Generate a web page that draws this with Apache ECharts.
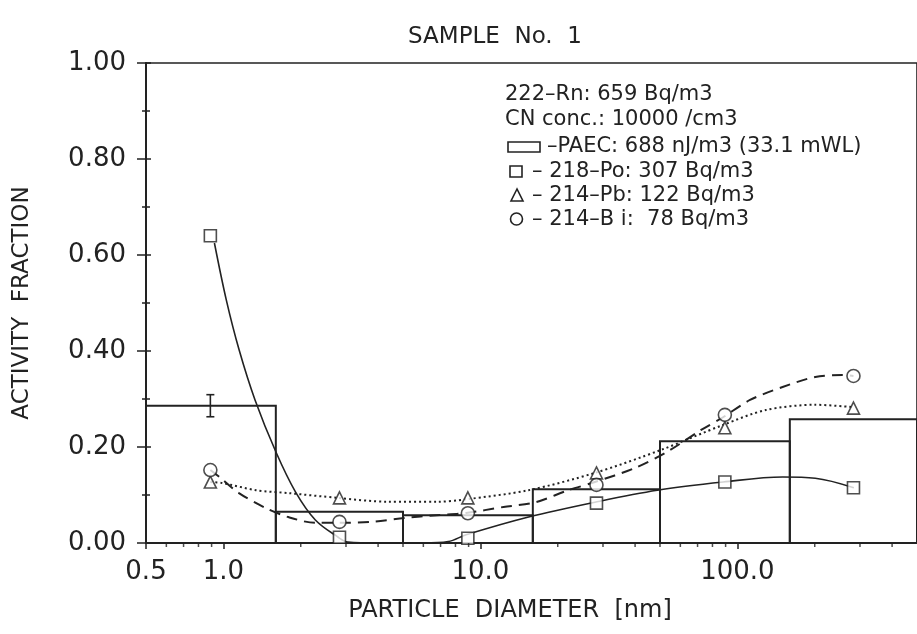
<!DOCTYPE html>
<html>
<head>
<meta charset="utf-8">
<script src="https://cdn.jsdelivr.net/npm/echarts@6/dist/echarts.min.js"></script>
<style>html,body{margin:0;padding:0;background:#fff;}#c{width:917px;height:634px;}</style>
</head>
<body>
<div id="c"></div>
<script>
// ---- data ----
const diameters = [0.89, 2.83, 8.94, 28.3, 89.4, 283];
const po218 = [0.64, 0.012, 0.01, 0.083, 0.127, 0.115];
const pb214 = [0.127, 0.094, 0.094, 0.146, 0.24, 0.281];
const bi214 = [0.152, 0.044, 0.062, 0.121, 0.267, 0.348];

const binEdges = [0.5, 1.6, 5, 16, 50, 160, 500];
const paec = [0.286, 0.065, 0.058, 0.112, 0.212, 0.258];
const paecErrX = [0.89];
const paecErrLow = [0.263];
const paecErrHigh = [0.309];

// fitted curves as drawn in the picture
const poCurveX = [0.923, 1.027, 1.152, 1.328, 1.6, 1.91, 2.28, 2.79, 3.05, 4, 6, 7.5, 8.8, 15.4, 27.9, 48.8, 88, 150, 201, 284];
const poCurveY = [0.625, 0.506, 0.402, 0.298, 0.19, 0.106, 0.048, 0.0125, 0.002, 0.0, 0.0, 0.003, 0.017, 0.054, 0.085, 0.11, 0.127, 0.1375, 0.135, 0.115];
const biCurveX = [0.89, 0.965, 1.15, 1.46, 1.79, 2.28, 2.79, 3.74, 5.06, 6.77, 8.8, 12.3, 16.4, 22, 27.9, 39.8, 53.3, 72, 88, 112, 150, 201, 256, 283];
const biCurveY = [0.152, 0.1375, 0.104, 0.073, 0.054, 0.042, 0.042, 0.044, 0.052, 0.058, 0.0625, 0.075, 0.085, 0.11, 0.127, 0.156, 0.19, 0.235, 0.262, 0.298, 0.325, 0.346, 0.35, 0.348];
const pbCurveX = [0.89, 0.99, 1.34, 1.79, 2.79, 4.35, 6.77, 8.8, 15.4, 27.9, 50.5, 88, 129, 201, 283];
const pbCurveY = [0.127, 0.125, 0.110, 0.104, 0.094, 0.086, 0.086, 0.091, 0.11, 0.146, 0.194, 0.246, 0.277, 0.288, 0.283];

const minorTickValues = [0.6, 0.7, 0.8, 0.9, 2, 3, 4, 5, 6, 7, 8, 9, 20, 30, 40, 50, 60, 70, 80, 90, 200, 300, 400];

const titleText = 'SAMPLE  No.  1';
const xName = 'PARTICLE  DIAMETER  [nm]';
const yName = 'ACTIVITY  FRACTION';
const legendLines = ['222\u2013Rn: 659 Bq/m3', 'CN conc.: 10000 /cm3', '\u2013PAEC: 688 nJ/m3 (33.1 mWL)', '\u2013 218\u2013Po: 307 Bq/m3', '\u2013 214\u2013Pb: 122 Bq/m3', '\u2013 214\u2013B i:  78 Bq/m3'];

// ---- chart ----
const INK = '#222';
const FONT = 'DejaVu Sans';
const zip = (xs, ys) => xs.map((x, i) => [x, ys[i]]);

const chart = echarts.init(document.getElementById('c'), null, {renderer: 'canvas'});

const legendY = [95, 120, 147, 172, 196, 220];
const graphic = legendLines.map((t, i) => ({
  type: 'text', z: 100,
  style: {text: t, x: i < 2 ? 505 : (i === 2 ? 547 : 532), y: legendY[i], fontSize: 21, fontFamily: FONT, fill: INK, verticalAlign: 'middle'}
}));
graphic.push(
  {type: 'rect', shape: {x: 508, y: 142, width: 32, height: 10}, style: {fill: 'none', stroke: INK, lineWidth: 1.6}},
  {type: 'rect', shape: {x: 510, y: 166, width: 12, height: 11}, style: {fill: 'none', stroke: INK, lineWidth: 1.6}},
  {type: 'polygon', shape: {points: [[517, 189], [511, 201], [523, 201]]}, style: {fill: 'none', stroke: INK, lineWidth: 1.6}},
  {type: 'circle', shape: {cx: 516.5, cy: 219, r: 6}, style: {fill: 'none', stroke: INK, lineWidth: 1.6}}
);

const symStyle = {color: '#fff', borderColor: INK, borderWidth: 1.6};

chart.setOption({
  animation: false,
  backgroundColor: '#fff',
  title: [
    {text: titleText, left: 490, top: 21, textAlign: 'center', textStyle: {fontSize: 23, fontWeight: 'normal', fontFamily: FONT, color: INK}},
    {text: xName, left: 505, top: 594, textAlign: 'center', textStyle: {fontSize: 24, fontWeight: 'normal', fontFamily: FONT, color: INK}}
  ],
  graphic: graphic,
  grid: {left: 146, top: 63, width: 780, height: 480, show: true, borderColor: INK, borderWidth: 1.6, backgroundColor: 'transparent'},
  xAxis: {
    type: 'log', logBase: 10, min: 0.5, max: 500,
    axisLine: {lineStyle: {color: INK, width: 2}},
    axisTick: {show: true, length: 6, lineStyle: {color: INK, width: 1.5}},
    axisLabel: {fontSize: 26, fontFamily: FONT, color: INK, margin: 16, showMinLabel: true, showMaxLabel: false,
      formatter: v => (+v).toFixed(1)},
    splitLine: {show: false}, minorTick: {show: false}
  },
  yAxis: [{
    type: 'value', min: 0, max: 1, interval: 0.2,
    name: yName, nameLocation: 'middle', nameRotate: 90, nameGap: 112,
    nameTextStyle: {fontSize: 23, fontFamily: FONT, color: INK},
    axisLine: {show: true, lineStyle: {color: INK, width: 2}},
    axisTick: {show: true, length: 9, lineStyle: {color: INK, width: 1.5}},
    minorTick: {show: true, splitNumber: 2, length: 4, lineStyle: {color: INK, width: 1.5}},
    axisLabel: {fontSize: 26, fontFamily: FONT, color: INK, margin: 20, formatter: v => v.toFixed(2)},
    splitLine: {show: false}
  }, {
    type: 'value', min: 0, max: 1, interval: 0.2, position: 'left', offset: 0,
    axisLine: {show: false},
    axisTick: {show: true, inside: true, length: 5, lineStyle: {color: INK, width: 1.5}},
    minorTick: {show: true, splitNumber: 2, length: 4, lineStyle: {color: INK, width: 1.5}},
    axisLabel: {show: false}, splitLine: {show: false}
  }],
  series: [
    {
      name: 'PAEC', type: 'custom', clip: false, z: 3,
      data: paec.map((h, i) => [binEdges[i], binEdges[i + 1], h]),
      encode: {x: [0, 1], y: 2},
      renderItem: (params, api) => {
        const p0 = api.coord([api.value(0), api.value(2)]);
        const p1 = api.coord([api.value(1), 0]);
        return {type: 'rect', shape: {x: p0[0], y: p0[1], width: p1[0] - p0[0], height: p1[1] - p0[1]},
          style: {fill: 'none', stroke: INK, lineWidth: 2}};
      }
    },
    {
      name: 'PAEC error', type: 'custom', clip: false, z: 3,
      data: paecErrX.map((x, i) => [x, paecErrLow[i], paecErrHigh[i]]),
      encode: {x: 0, y: [1, 2]},
      renderItem: (params, api) => {
        const lo = api.coord([api.value(0), api.value(1)]);
        const hi = api.coord([api.value(0), api.value(2)]);
        const w = 4;
        const ls = {stroke: INK, lineWidth: 1.6};
        return {type: 'group', children: [
          {type: 'line', shape: {x1: lo[0], y1: lo[1], x2: hi[0], y2: hi[1]}, style: ls},
          {type: 'line', shape: {x1: lo[0] - w, y1: lo[1], x2: lo[0] + w, y2: lo[1]}, style: ls},
          {type: 'line', shape: {x1: hi[0] - w, y1: hi[1], x2: hi[0] + w, y2: hi[1]}, style: ls}
        ]};
      }
    },
    {name: 'Po curve', type: 'line', data: zip(poCurveX, poCurveY), smooth: 0.35, showSymbol: false, z: 4,
      lineStyle: {color: INK, width: 1.6, type: 'solid'}},
    {name: 'Bi curve', type: 'line', data: zip(biCurveX, biCurveY), smooth: 0.3, showSymbol: false, z: 4,
      lineStyle: {color: INK, width: 2, type: [11, 7]}},
    {name: 'Pb curve', type: 'line', data: zip(pbCurveX, pbCurveY), smooth: 0.3, showSymbol: false, z: 4,
      lineStyle: {color: INK, width: 2, type: [2, 3]}},
    {name: '218-Po', type: 'scatter', data: zip(diameters, po218), symbol: 'rect', symbolSize: 12, itemStyle: symStyle, z: 6, clip: false},
    {name: '214-Pb', type: 'scatter', data: zip(diameters, pb214), symbol: 'triangle', symbolSize: 12, itemStyle: symStyle, z: 6, clip: false},
    {name: '214-Bi', type: 'scatter', data: zip(diameters, bi214), symbol: 'circle', symbolSize: 13, itemStyle: symStyle, z: 6, clip: false},
    {name: 'minor ticks', type: 'scatter', data: minorTickValues.map(v => [v, 0]), symbol: 'rect', symbolSize: [1.5, 4],
      symbolOffset: [0, 2], itemStyle: {color: INK}, z: 7, clip: false, silent: true}
  ]
});
</script>
</body>
</html>
